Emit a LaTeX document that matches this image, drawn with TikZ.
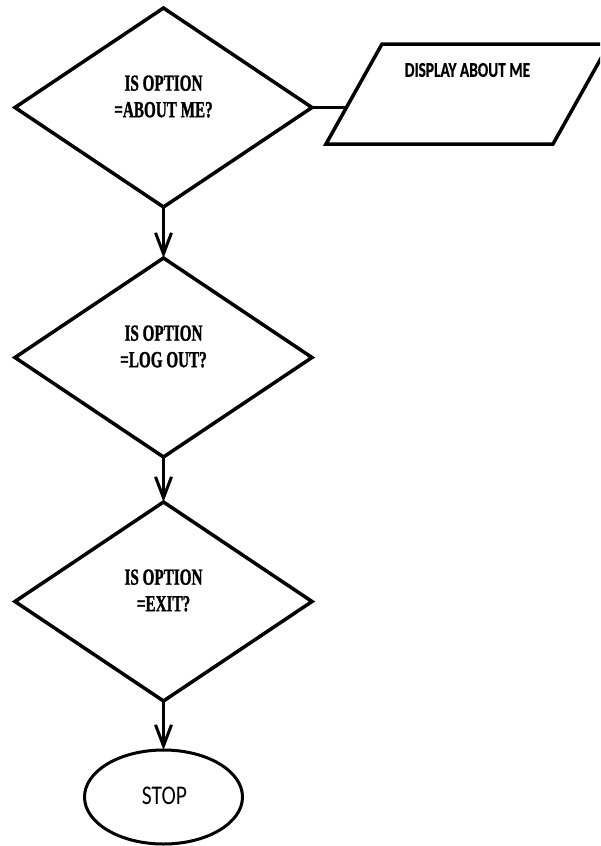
\documentclass[tikz,border=0pt]{standalone}
\usepackage{fontspec}
\usetikzlibrary{shapes.geometric,arrows.meta}
\newfontfamily\qfont[FakeStretch=0.66,FakeBold=1.2]{Liberation Serif}
\newfontfamily\dispfont[FakeStretch=0.73,FakeBold=0.6]{Carlito}
\newfontfamily\stopfont[FakeStretch=0.80]{Carlito}
\begin{document}
\begin{tikzpicture}[x=1pt,y=-1pt,
  decision/.style={diamond,draw,line width=3.5pt,minimum width=297pt,minimum height=199pt,inner sep=0pt,outer sep=0pt},
  qtext/.style={align=center,inner sep=0pt,font=\qfont\bfseries\fontsize{23}{26.5}\selectfont},
  terminal/.style={ellipse,draw,line width=3pt,minimum width=158pt,minimum height=94pt,inner sep=0pt,outer sep=0pt},
  flow/.style={line width=3.2pt,-{Straight Barb[length=21pt,width=16pt,line width=3pt]}},
  link/.style={line width=3.5pt}]
  \useasboundingbox (0,0) rectangle (600,846);
  \clip (0,0) rectangle (600,846);

  % decisions
  \node[decision] (d1) at (163.5,107.5) {};
  \node[qtext] (t1) at (163.5,96.5) {IS OPTION\\=ABOUT ME?};
  \node[decision] (d2) at (163.5,357.5) {};
  \node[qtext] (t2) at (163.5,346.5) {IS OPTION\\=LOG OUT?};
  \node[decision] (d3) at (163.5,601.5) {};
  \node[qtext] (t3) at (163.5,590.5) {IS OPTION\\=EXIT?};

  % output box, running off the right edge
  \draw[line width=3.5pt,line join=miter] (326,144) -- (382,44) -- (609,44) -- (553,144) -- cycle;
  \node[font=\dispfont\bfseries\fontsize{21}{24}\selectfont,inner sep=0pt] (disp) at (467.5,70) {DISPLAY ABOUT ME};
  \coordinate (din) at (346,107.5);

  % terminal
  \node[terminal] (stop) at (163.5,797) {};
  \node[font=\stopfont\fontsize{27}{30}\selectfont,inner sep=0pt] (stopt) at (164.5,796) {STOP};

  % connectors
  \draw[link] (d1.east) -- (din);
  \draw[flow] (d1.south) -- (d2.north);
  \draw[flow] (d2.south) -- (d3.north);
  \draw[flow] (d3.south) -- (stop.north);
\end{tikzpicture}
\end{document}
